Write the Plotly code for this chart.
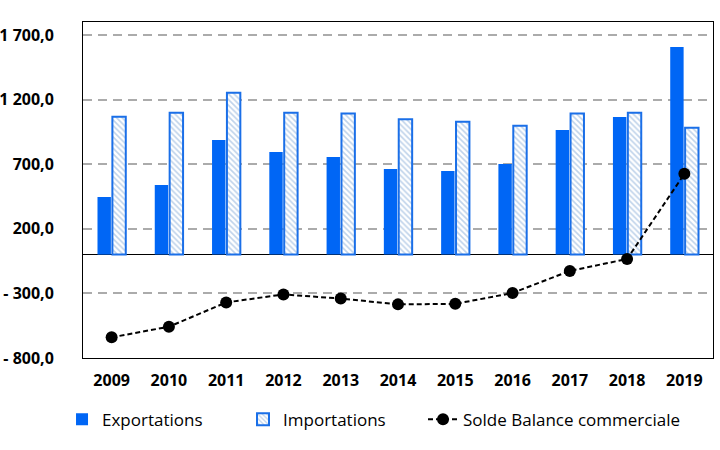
import plotly.graph_objects as go

years = ["2009", "2010", "2011", "2012", "2013", "2014", "2015", "2016", "2017", "2018", "2019"]
exportations = [446, 539, 887, 794, 755, 663, 647, 701, 964, 1065, 1607]
importations = [1067, 1098, 1253, 1098, 1091, 1047, 1029, 998, 1091, 1098, 982]
solde = [-640, -558, -370, -308, -340, -385, -381, -297, -126, -34, 625]
tick_vals = [1700, 1200, 700, 200, -300, -800]
tick_text = ["1 700,0", "1 200,0", "700,0", "200,0", "- 300,0", "- 800,0"]

fig = go.Figure()
fig.add_trace(go.Bar(
    x=years, y=exportations, name="Exportations",
    marker=dict(color="#0066F5", line=dict(width=0)),
))
fig.add_trace(go.Bar(
    x=years, y=importations, name="Importations",
    marker=dict(color="white", line=dict(color="#1A6FE8", width=2),
                pattern=dict(shape="\\", fgcolor="#7FA7D6", bgcolor="white", size=4, solidity=0.4)),
))
fig.add_trace(go.Scatter(
    x=years, y=solde, name="Solde Balance commerciale", mode="lines+markers",
    line=dict(color="black", width=2, dash="5px,3px"),
    marker=dict(color="black", size=12),
    legend="legend2",
))

legend_font = dict(size=17, family="Open Sans, sans-serif", color="black")
fig.update_layout(
    width=720, height=450,
    margin=dict(l=83, r=7, t=22, b=92),
    paper_bgcolor="white", plot_bgcolor="white",
    barmode="group", bargap=0.48, bargroupgap=0.1,
    font=dict(family="Open Sans, DejaVu Sans, sans-serif", color="black"),
    showlegend=True,
    legend=dict(orientation="h", x=-0.0333, xanchor="left", y=-0.13, yanchor="top",
                font=legend_font, traceorder="normal",
                entrywidth=136, entrywidthmode="pixels"),
    legend2=dict(orientation="h", x=0.5397, xanchor="left", y=-0.13, yanchor="top",
                 font=legend_font),
    xaxis=dict(range=[-0.5, 10.5], showgrid=False,
               tickfont=dict(size=16, family="Open Sans, sans-serif", weight="bold"),
               showline=True, linecolor="black", linewidth=1, mirror=True, ticks="",
               ticklabelstandoff=8, automargin=False),
    yaxis=dict(range=[-800, 1800], tickvals=tick_vals, ticktext=tick_text,
               tickfont=dict(size=16, family="Open Sans, sans-serif", weight="bold"),
               showgrid=True, gridcolor="#ABABAB", griddash="9px,6px", gridwidth=1.5,
               zeroline=True, zerolinecolor="black", zerolinewidth=1,
               showline=True, linecolor="black", linewidth=1, mirror=True, ticks="",
               ticklabelstandoff=25, automargin=False),
)

fig.write_html("out.html", config={"displayModeBar": False},
               post_script="document.body.style.margin='0';")
